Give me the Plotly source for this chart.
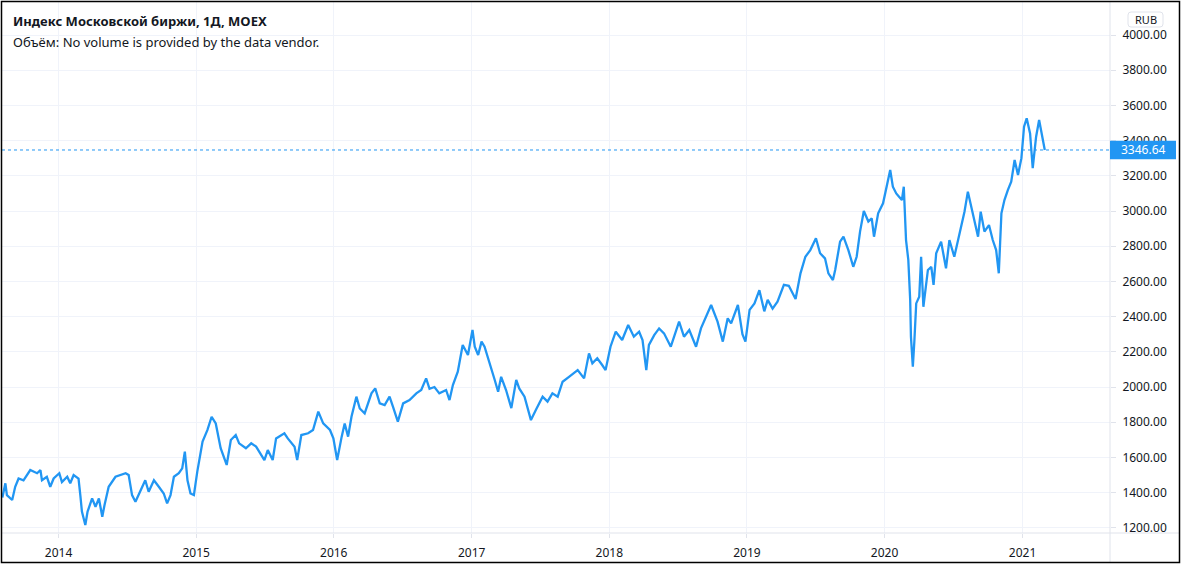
import plotly.graph_objects as go

dates = [
"2013-08-05","2013-08-13","2013-08-17","2013-08-31","2013-09-08","2013-09-17","2013-09-30","2013-10-18",
"2013-11-05","2013-11-14","2013-11-18","2013-12-01","2013-12-10","2013-12-19",
"2014-01-03","2014-01-10","2014-01-24","2014-02-01","2014-02-10","2014-02-23","2014-02-28","2014-03-04",
"2014-03-13","2014-03-19","2014-03-31","2014-04-09","2014-04-18","2014-04-27","2014-05-03","2014-05-14",
"2014-06-01","2014-06-14","2014-06-28","2014-07-06","2014-07-15","2014-07-24","2014-08-06","2014-08-19",
"2014-08-28","2014-09-11","2014-09-24","2014-10-07","2014-10-16","2014-10-25","2014-11-03","2014-11-16",
"2014-11-25","2014-12-02","2014-12-09","2014-12-17","2014-12-26",
"2015-01-04","2015-01-18","2015-01-31","2015-02-11","2015-02-22","2015-03-07","2015-03-23","2015-04-03",
"2015-04-16","2015-04-25","2015-05-13","2015-05-27","2015-06-09","2015-07-01","2015-07-10","2015-07-23",
"2015-08-01","2015-08-23","2015-09-01","2015-09-19","2015-09-26","2015-10-07","2015-10-25","2015-11-07",
"2015-11-21","2015-12-04","2015-12-22","2015-12-31",
"2016-01-10","2016-01-22","2016-01-30","2016-02-08","2016-02-17","2016-03-01","2016-03-10","2016-03-23",
"2016-04-10","2016-04-20","2016-05-02","2016-05-15","2016-05-28","2016-06-06","2016-06-19","2016-07-03",
"2016-07-20","2016-08-07","2016-08-20","2016-09-02","2016-09-11","2016-09-24","2016-10-07","2016-10-25",
"2016-11-03","2016-11-12","2016-11-25","2016-12-08","2016-12-22",
"2017-01-03","2017-01-09","2017-01-18","2017-01-27","2017-02-04","2017-02-17","2017-03-03","2017-03-12",
"2017-03-20","2017-04-02","2017-04-16","2017-04-29","2017-05-07","2017-05-21","2017-06-07","2017-06-20",
"2017-07-08","2017-07-21","2017-08-03","2017-08-17","2017-08-30","2017-09-16","2017-10-09","2017-10-26",
"2017-11-08","2017-11-17","2017-11-30","2017-12-13","2017-12-22",
"2018-01-04","2018-01-18","2018-02-04","2018-02-20","2018-03-07","2018-03-21","2018-03-30","2018-04-09",
"2018-04-16","2018-04-30","2018-05-13","2018-05-26","2018-06-13","2018-07-05","2018-07-18","2018-08-01",
"2018-08-19","2018-09-01","2018-09-28","2018-10-06","2018-10-15","2018-10-29","2018-11-11","2018-11-20",
"2018-12-08","2018-12-20","2018-12-28",
"2019-01-08","2019-01-21","2019-02-03","2019-02-16","2019-02-25","2019-03-10","2019-03-23","2019-04-09",
"2019-04-22","2019-05-10","2019-05-23","2019-06-05","2019-06-18","2019-07-03","2019-07-14","2019-07-27",
"2019-08-05","2019-08-17","2019-08-23","2019-09-05","2019-09-14","2019-09-27","2019-10-10","2019-10-19",
"2019-10-28","2019-11-07","2019-11-19","2019-11-28","2019-12-04","2019-12-15","2019-12-28",
"2020-01-06","2020-01-16","2020-01-23","2020-02-01","2020-02-09","2020-02-16","2020-02-21","2020-02-27",
"2020-03-04","2020-03-09","2020-03-11","2020-03-16","2020-03-20","2020-03-25","2020-04-02","2020-04-07",
"2020-04-13","2020-04-25","2020-05-04","2020-05-10","2020-05-17","2020-05-30","2020-06-12","2020-06-21",
"2020-07-04","2020-07-18","2020-07-31","2020-08-09","2020-08-18","2020-09-05","2020-09-12","2020-09-22",
"2020-10-04","2020-10-14","2020-10-23","2020-10-30","2020-11-06","2020-11-14","2020-11-23","2020-12-02",
"2020-12-11","2020-12-20","2020-12-29",
"2021-01-05","2021-01-12","2021-01-21","2021-01-28","2021-02-06","2021-02-14","2021-02-21","2021-03-01",
]

values = [
1372,1453,1386,1358,1433,1480,1470,1528,
1510,1528,1470,1490,1433,1480,
1510,1460,1490,1453,1500,1480,1380,1292,
1216,1292,1367,1320,1367,1263,1330,1433,
1490,1500,1510,1500,1386,1348,1405,1470,
1405,1470,1433,1395,1339,1386,1490,1510,
1538,1633,1470,1395,1386,
1519,1690,1756,1831,1793,1652,1557,1699,
1727,1680,1652,1680,1661,1585,1642,1585,
1708,1737,1708,1661,1585,1727,1737,1756,
1860,1793,1756,1708,
1585,1718,1793,1718,1831,1945,1878,1850,
1964,1992,1907,1897,1945,1888,1803,1907,
1926,1964,1983,2049,1990,2000,1964,1983,
1926,2011,2087,2239,2182,
2324,2229,2182,2258,2229,2144,2040,1973,
2058,1983,1880,2040,1992,1945,1812,1870,
1945,1917,1964,1945,2030,2058,2096,2049,
2191,2134,2163,2125,2096,
2229,2314,2267,2352,2286,2314,2267,2096,
2239,2295,2333,2305,2229,2371,2286,2324,
2229,2333,2466,2420,2371,2258,2390,2362,
2466,2300,2258,
2438,2475,2550,2430,2495,2445,2485,2580,
2575,2500,2646,2740,2778,2845,2760,2731,
2646,2608,2665,2826,2854,2778,2683,2740,
2883,3000,2940,2958,2854,2987,3044,
3138,3233,3138,3100,3080,3062,3138,2835,
2722,2494,2286,2116,2258,2475,2513,2740,
2456,2665,2683,2580,2760,2826,2674,2835,
2740,2873,2996,3110,3025,2854,2996,2883,
2920,2835,2778,2646,2987,3062,3119,3166,
3290,3204,3300,
3479,3527,3441,3243,3422,3517,3441,3346.64,
]

last_price = 3346.64
year_ticks = ["2014-01-01","2015-01-01","2016-01-01","2017-01-01",
              "2018-01-01","2019-01-01","2020-01-01","2021-01-01"]
year_labels = ["2014","2015","2016","2017","2018","2019","2020","2021"]
price_ticks = [1200,1400,1600,1800,2000,2200,2400,2600,2800,3000,3200,3400,3600,3800,4000]

title_text = "Индекс Московской биржи, 1Д, MOEX"
volume_text = "Объём: No volume is provided by the data vendor."
currency = "RUB"

W, H = 1182, 567
BLUE = "#2196F3"
GRID = "#f0f3fa"
AXLINE = "#e0e3eb"
TXT = "#131722"
FONT = "Noto Sans"

px_l, px_r, px_t, px_b = 2, 1110, 2, 533

fig = go.Figure()
fig.add_trace(go.Scatter(x=dates, y=values, mode="lines",
                         line=dict(color=BLUE, width=2.3), hoverinfo="skip", showlegend=False))

fig.update_layout(
    width=W, height=H,
    margin=dict(l=0, r=0, t=0, b=0),
    paper_bgcolor="white", plot_bgcolor="white",
    showlegend=False,
    font=dict(family=FONT, color=TXT, size=12),
    xaxis=dict(
        domain=[px_l / W, px_r / W],
        type="date",
        range=["2013-08-04", "2021-08-21"],
        tickvals=year_ticks, ticktext=year_labels,
        showgrid=True, gridcolor=GRID, gridwidth=1,
        ticks="outside", ticklen=4, tickcolor=AXLINE,
        ticklabelstandoff=5,
        tickfont=dict(size=12, color=TXT, family=FONT),
        showline=False, zeroline=False, automargin=False,
    ),
    yaxis=dict(
        domain=[(H - px_b) / H, (H - px_t) / H],
        side="right",
        range=[1170.5, 4187.5],
        tickvals=price_ticks,
        tickformat=".2f",
        showgrid=True, gridcolor=GRID, gridwidth=1,
        ticks="outside", ticklen=5, tickcolor=AXLINE,
        ticklabelstandoff=4,
        tickfont=dict(size=12, color=TXT, family=FONT),
        showline=False, zeroline=False, automargin=False,
    ),
)

shapes = []
# last price dotted line
shapes.append(dict(type="line", xref="paper", yref="y", x0=px_l / W, x1=px_r / W,
                   y0=last_price, y1=last_price, line=dict(color=BLUE, width=1, dash="dot"), layer="above"))
# axis separator lines
shapes.append(dict(type="line", xref="paper", yref="paper", x0=px_r / W, x1=px_r / W,
                   y0=(H - 563) / H, y1=(H - 1) / H, line=dict(color=AXLINE, width=1), layer="above"))
shapes.append(dict(type="line", xref="paper", yref="paper", x0=1 / W, x1=1180 / W,
                   y0=(H - px_b) / H, y1=(H - px_b) / H, line=dict(color=AXLINE, width=1), layer="above"))
# price label box
shapes.append(dict(type="rect", xref="paper", yref="y", x0=1110 / W, x1=1176 / W,
                   y0=last_price - 52, y1=last_price + 52,
                   fillcolor=BLUE, line=dict(width=0), layer="above"))
# outer border
shapes.append(dict(type="rect", xref="paper", yref="paper", x0=1.5 / W, x1=1179.5 / W,
                   y0=(H - 562.5) / H, y1=(H - 1.5) / H,
                   line=dict(color="black", width=1.5), fillcolor="rgba(0,0,0,0)", layer="above"))
# RUB rounded box
x0, x1 = 1128 / W, 1163 / W
y0, y1 = (H - 27) / H, (H - 12) / H
rx, ry = 3 / W, 3 / H
path = (f"M {x0+rx},{y1} L {x1-rx},{y1} Q {x1},{y1} {x1},{y1-ry} L {x1},{y0+ry} Q {x1},{y0} {x1-rx},{y0} "
        f"L {x0+rx},{y0} Q {x0},{y0} {x0},{y0+ry} L {x0},{y1-ry} Q {x0},{y1} {x0+rx},{y1} Z")
shapes.append(dict(type="path", xref="paper", yref="paper", path=path,
                   fillcolor="white", line=dict(color=AXLINE, width=1), layer="above"))
fig.update_layout(shapes=shapes)

annotations = [
    dict(text=f"<b>{title_text}</b>", xref="paper", yref="paper", x=11 / W, y=(H - 21) / H,
         xanchor="left", yanchor="middle", showarrow=False, font=dict(size=13, color=TXT, family=FONT)),
    dict(text=volume_text, xref="paper", yref="paper", x=11 / W, y=(H - 42) / H,
         xanchor="left", yanchor="middle", showarrow=False, font=dict(size=13, color=TXT, family=FONT)),
    dict(text=currency, xref="paper", yref="paper", x=1145.5 / W, y=(H - 19.5) / H,
         xanchor="center", yanchor="middle", showarrow=False, font=dict(size=11, color=TXT, family=FONT)),
    dict(text=f"{last_price:.2f}", xref="paper", yref="y", x=1143 / W, y=last_price,
         xanchor="center", yanchor="middle", showarrow=False, font=dict(size=12, color="white", family=FONT)),
]
fig.update_layout(annotations=annotations)

fig.write_html("out.html")
